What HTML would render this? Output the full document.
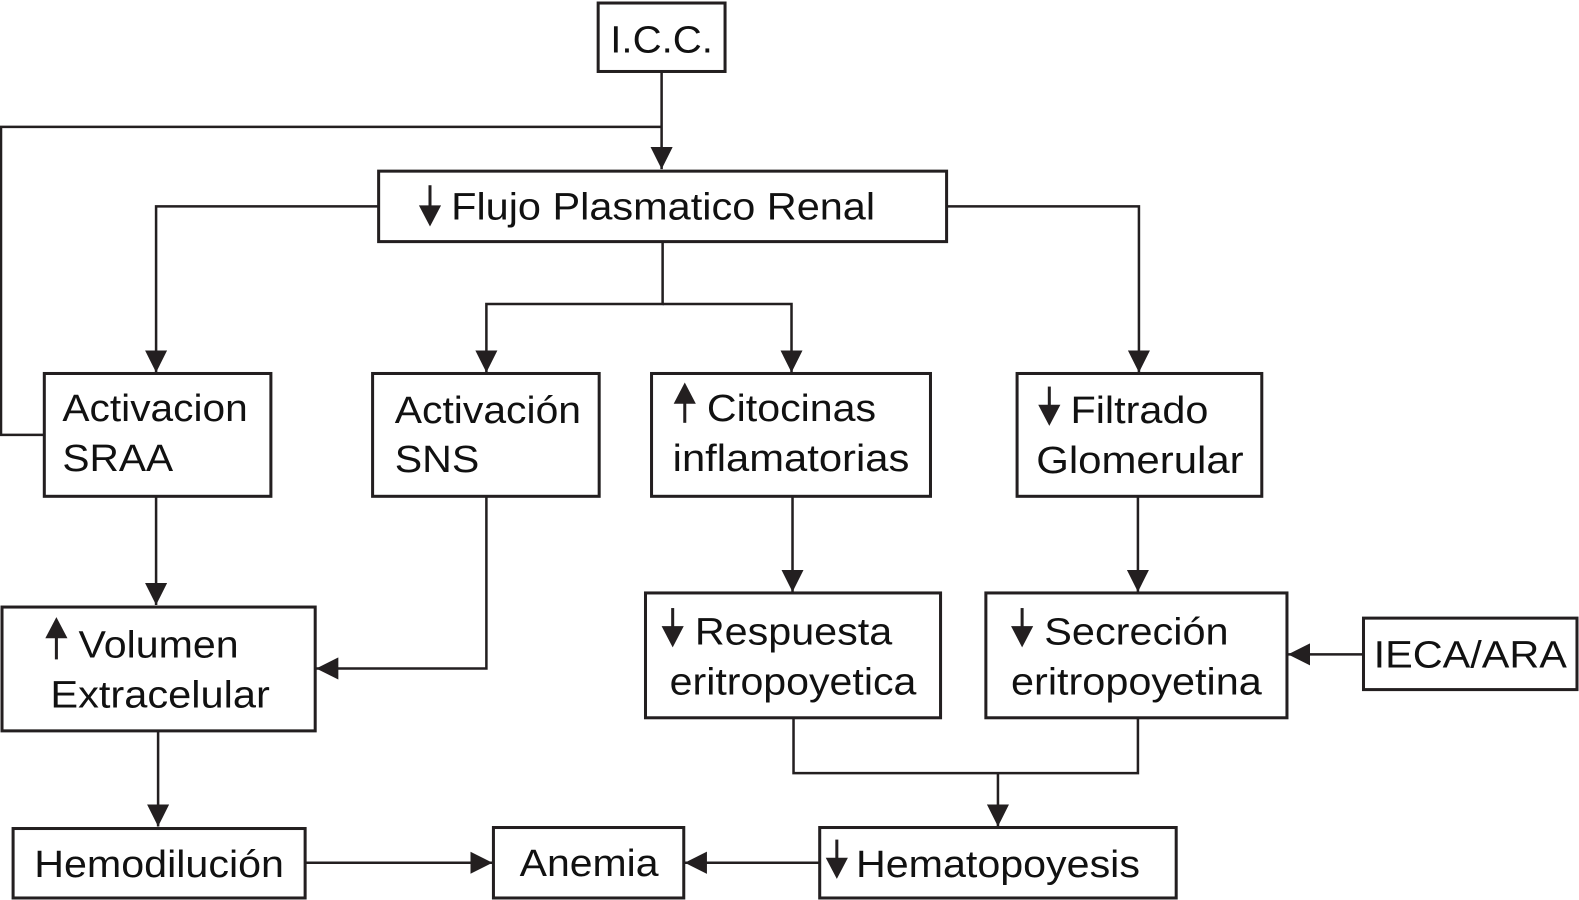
<!DOCTYPE html>
<html><head><meta charset="utf-8"><style>html,body{margin:0;padding:0;background:#fff}svg{display:block}</style></head>
<body>
<svg width="1579" height="900" viewBox="0 0 1568 894" preserveAspectRatio="none" xmlns="http://www.w3.org/2000/svg">
<defs>
<marker id="a" viewBox="0 0 10 10" refX="10" refY="5" markerWidth="22" markerHeight="22" markerUnits="userSpaceOnUse" orient="auto"><path d="M0,0 L10,5 L0,10 z" fill="#231f20"/></marker>
</defs>
<g fill="none" stroke="#231f20" stroke-width="3">
<rect x="594" y="3" width="126" height="68"/>
<rect x="376" y="170" width="564" height="70"/>
<rect x="44" y="371" width="225" height="122"/>
<rect x="370" y="371" width="225" height="122"/>
<rect x="647" y="371" width="277" height="122"/>
<rect x="1010" y="371" width="243" height="122"/>
<rect x="2" y="603" width="311" height="123"/>
<rect x="641" y="589" width="293" height="124"/>
<rect x="979" y="589" width="299" height="124"/>
<rect x="1354" y="614" width="212" height="71"/>
<rect x="13" y="823" width="290" height="69"/>
<rect x="490" y="822" width="189" height="70"/>
<rect x="814" y="822" width="354" height="70"/>
<g stroke-width="2.5">
<path d="M657,71 V168" marker-end="url(#a)"/>
<path d="M44,432 H1 V126 H657"/>
<path d="M376,205 H155 V370" marker-end="url(#a)"/>
<path d="M658,240 V302 H483 V370" marker-end="url(#a)"/>
<path d="M658,302 H786 V370" marker-end="url(#a)"/>
<path d="M940,205 H1131 V370" marker-end="url(#a)"/>
<path d="M155,493 V601" marker-end="url(#a)"/>
<path d="M483,493 V664 H314" marker-end="url(#a)"/>
<path d="M787,493 V588" marker-end="url(#a)"/>
<path d="M1130,493 V588" marker-end="url(#a)"/>
<path d="M1354,650 H1279" marker-end="url(#a)"/>
<path d="M788,713 V768 H1130 V713"/>
<path d="M991,768 V821" marker-end="url(#a)"/>
<path d="M157,726 V821" marker-end="url(#a)"/>
<path d="M303,857 H489" marker-end="url(#a)"/>
<path d="M814,857 H680" marker-end="url(#a)"/>
</g>
</g>
<g fill="#231f20" stroke="#231f20" stroke-width="3">
<!-- down arrows -->
<path d="M427,184 V212"/><path d="M416,204 L438,204 L427,225 z" stroke="none"/>
<path d="M1042,384 V410"/><path d="M1031,402 L1053,402 L1042,423 z" stroke="none"/>
<path d="M668,604 V630"/><path d="M657,622 L679,622 L668,643 z" stroke="none"/>
<path d="M1015,604 V630"/><path d="M1004,622 L1026,622 L1015,643 z" stroke="none"/>
<path d="M831,834 V860"/><path d="M820,852 L842,852 L831,873 z" stroke="none"/>
<!-- up arrows -->
<path d="M680,393 V420"/><path d="M669,401 L691,401 L680,380 z" stroke="none"/>
<path d="M56,625 V655"/><path d="M45,634 L67,634 L56,613 z" stroke="none"/>
</g>
<g font-family="Liberation Sans, Arial, sans-serif" font-size="38" fill="#111">
<text x="606" y="52" textLength="102" lengthAdjust="spacingAndGlyphs">I.C.C.</text>
<text x="448" y="218" textLength="421" lengthAdjust="spacingAndGlyphs">Flujo Plasmatico Renal</text>
<text x="62" y="418" textLength="184" lengthAdjust="spacingAndGlyphs">Activacion</text>
<text x="62" y="468" textLength="110" lengthAdjust="spacingAndGlyphs">SRAA</text>
<text x="392" y="420" textLength="185" lengthAdjust="spacingAndGlyphs">Activación</text>
<text x="392" y="469" textLength="84" lengthAdjust="spacingAndGlyphs">SNS</text>
<text x="702" y="418" textLength="168" lengthAdjust="spacingAndGlyphs">Citocinas</text>
<text x="668" y="468" textLength="235" lengthAdjust="spacingAndGlyphs">inflamatorias</text>
<text x="1063" y="420" textLength="137" lengthAdjust="spacingAndGlyphs">Filtrado</text>
<text x="1029" y="470" textLength="206" lengthAdjust="spacingAndGlyphs">Glomerular</text>
<text x="78" y="653" textLength="159" lengthAdjust="spacingAndGlyphs">Volumen</text>
<text x="50" y="703" textLength="218" lengthAdjust="spacingAndGlyphs">Extracelular</text>
<text x="690" y="640" textLength="196" lengthAdjust="spacingAndGlyphs">Respuesta</text>
<text x="665" y="690" textLength="245" lengthAdjust="spacingAndGlyphs">eritropoyetica</text>
<text x="1037" y="640" textLength="183" lengthAdjust="spacingAndGlyphs">Secreción</text>
<text x="1004" y="690" textLength="249" lengthAdjust="spacingAndGlyphs">eritropoyetina</text>
<text x="1364" y="663" textLength="192" lengthAdjust="spacingAndGlyphs">IECA/ARA</text>
<text x="34" y="871" textLength="248" lengthAdjust="spacingAndGlyphs">Hemodilución</text>
<text x="516" y="870" textLength="138" lengthAdjust="spacingAndGlyphs">Anemia</text>
<text x="850" y="871" textLength="282" lengthAdjust="spacingAndGlyphs">Hematopoyesis</text>
</g>
</svg>
</body></html>
